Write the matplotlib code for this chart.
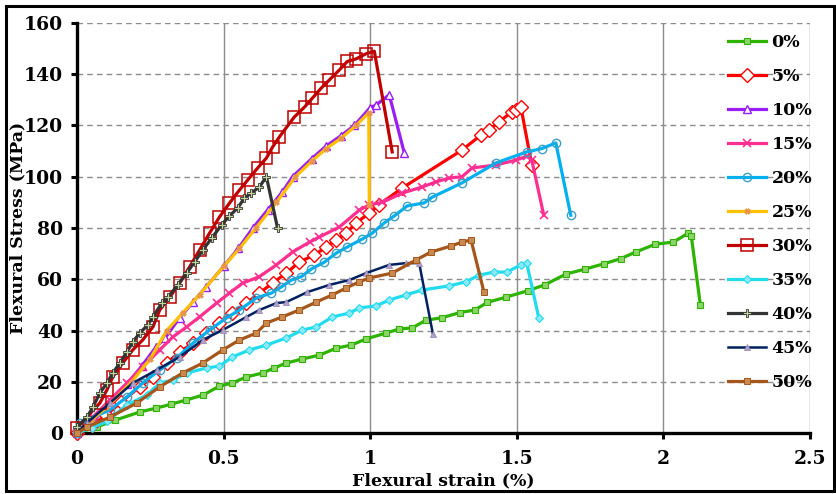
import matplotlib
matplotlib.use('Agg')
import matplotlib.pyplot as plt
from matplotlib.patches import Rectangle

# ---- data (strain %, stress MPa) ----
strain_0 = [0, 0.068, 0.13, 0.214, 0.27, 0.32, 0.373, 0.43, 0.486, 0.53, 0.578, 0.633, 0.673,
            0.714, 0.769, 0.827, 0.884, 0.935, 0.986, 1.054, 1.099, 1.143, 1.19, 1.245, 1.306,
            1.357, 1.40, 1.463, 1.537, 1.595, 1.667, 1.734, 1.796, 1.854, 1.905, 1.973, 2.034,
            2.085, 2.095, 2.126]
stress_0 = [0, 2.4, 5, 8.2, 9.7, 11.2, 12.9, 14.8, 18.3, 19.5, 21.9, 23.4, 25.4,
            27.3, 28.9, 30.4, 33.1, 34.3, 36.7, 39, 40.6, 41, 44, 45, 47,
            48, 51, 53, 55.5, 57.8, 62, 64, 66, 68, 70.6, 73.7, 74.5,
            78, 77, 50]

strain_5 = [0, 0.05, 0.1, 0.15, 0.214, 0.259, 0.306, 0.35, 0.395, 0.44, 0.486, 0.53, 0.578,
            0.622, 0.667, 0.714, 0.758, 0.81, 0.85, 0.884, 0.918, 0.952, 0.997, 1.03, 1.109,
            1.313, 1.378, 1.405, 1.439, 1.483, 1.497, 1.514, 1.551]
stress_5 = [0, 3, 7, 12, 18, 22, 27.3, 31.6, 35, 39, 43, 46.8, 50.7,
            54.6, 58.5, 62.4, 66.7, 69.5, 72.6, 75.3, 78, 82, 85.8, 89, 95.6,
            110.4, 116.3, 118.2, 121.4, 125.3, 126, 127.2, 104.6]

strain_10 = [0, 0.05, 0.1, 0.17, 0.22, 0.27, 0.3, 0.35, 0.395, 0.44, 0.5, 0.55, 0.6, 0.65,
             0.7, 0.735, 0.8, 0.85, 0.9, 0.946, 1.0, 1.02, 1.065, 1.116]
stress_10 = [0, 4, 10, 19, 26, 33.6, 37, 45, 51, 57, 65, 72, 80, 87,
             94, 100, 107, 112, 116, 120, 127, 128, 132, 109.4]

strain_15 = [0, 0.054, 0.112, 0.17, 0.224, 0.282, 0.327, 0.374, 0.418, 0.476, 0.52, 0.565,
             0.622, 0.68, 0.735, 0.793, 0.827, 0.895, 0.963, 0.997, 1.041, 1.109, 1.177,
             1.224, 1.269, 1.313, 1.347, 1.429, 1.497, 1.534, 1.551, 1.592]
stress_15 = [0, 6.2, 12.9, 19.5, 25.8, 32.4, 37.5, 41.4, 45.3, 50.7, 54.6, 58.5,
             61, 65.6, 70.6, 74.5, 76.5, 80.4, 87, 89, 90, 93.6, 96,
             98, 99.5, 100, 103.4, 104.6, 106.5, 108, 106.5, 85]

strain_20 = [0, 0.01, 0.112, 0.17, 0.224, 0.282, 0.34, 0.395, 0.452, 0.51, 0.554, 0.612,
             0.663, 0.697, 0.731, 0.765, 0.799, 0.844, 0.884, 0.922, 0.973, 1.007, 1.048,
             1.082, 1.126, 1.184, 1.211, 1.313, 1.429, 1.534, 1.585, 1.633, 1.684]
stress_20 = [0, 3.9, 9, 14, 19.5, 24.6, 29.3, 35, 40.2, 44.9, 48, 52.7,
             54.6, 57, 59.7, 61, 64, 66.7, 70.2, 72.6, 75.7, 78, 82,
             84.7, 88.6, 89.8, 92, 97.6, 105.4, 109.7, 111, 113.2, 85]

strain_25 = [0, 0.05, 0.1, 0.187, 0.25, 0.306, 0.36, 0.418, 0.5, 0.554, 0.61, 0.68, 0.745,
             0.8, 0.85, 0.9, 0.952, 0.995, 0.997]
stress_25 = [0, 5, 10, 20, 29, 40, 46.8, 54, 65, 72, 80, 90, 100,
             106, 111, 115, 120, 125, 89]

strain_30 = [0, 0.078, 0.102, 0.122, 0.156, 0.19, 0.224, 0.259, 0.282, 0.316, 0.35, 0.384,
             0.418, 0.452, 0.486, 0.52, 0.554, 0.582, 0.616, 0.646, 0.667, 0.69, 0.741,
             0.776, 0.803, 0.833, 0.861, 0.895, 0.922, 0.952, 0.986, 1.014, 1.075]
stress_30 = [2, 11.7, 16.8, 21.9, 27.3, 32.4, 36.3, 41.4, 48, 53, 58.5, 64.8,
             71.4, 78, 84.3, 89.7, 94.8, 98.7, 103.4, 107.3, 111.6, 115.5, 123.3,
             127.2, 130.7, 134.6, 137.8, 141.7, 145, 146, 148, 149, 109.7]

strain_35 = [0, 0.05, 0.102, 0.17, 0.238, 0.282, 0.327, 0.374, 0.442, 0.486, 0.53, 0.588,
             0.646, 0.714, 0.769, 0.816, 0.871, 0.929, 0.963, 1.02, 1.065, 1.122, 1.177,
             1.269, 1.327, 1.371, 1.422, 1.466, 1.514, 1.534, 1.575]
stress_35 = [0, 2, 4.5, 10.9, 14.8, 19.5, 20.7, 23.4, 25.4, 26.1, 29.7, 32.4,
             34.3, 37.1, 40.2, 41.4, 45.3, 46.8, 48.8, 49.6, 51.9, 53.9, 55.8,
             57.4, 59, 61.6, 62.8, 62.8, 65.6, 66.3, 44.9]

strain_40 = [0, 0.034, 0.054, 0.078, 0.102, 0.122, 0.146, 0.17, 0.19, 0.214, 0.241, 0.259,
             0.289, 0.31, 0.344, 0.374, 0.401, 0.429, 0.459, 0.493, 0.52, 0.548, 0.571,
             0.595, 0.622, 0.646, 0.684]
stress_40 = [2.3, 6.2, 10, 15.6, 19.5, 23.4, 27.3, 31.6, 35.5, 39, 42.1, 45.3,
             50.7, 53, 57.8, 62.4, 66.7, 71.4, 76, 81.2, 84.7, 87.8, 91.7,
             93.7, 96, 100, 80]

strain_45 = [0, 0.034, 0.112, 0.19, 0.272, 0.35, 0.429, 0.497, 0.578, 0.622, 0.68, 0.714,
             0.786, 0.861, 0.929, 0.986, 1.065, 1.122, 1.167, 1.214]
stress_45 = [0, 3.9, 11.7, 19.5, 24.6, 29.7, 36.3, 40.2, 45.3, 48, 50.7, 51.1,
             55, 57.8, 59.7, 62.4, 65.6, 66.3, 66.3, 38.6]

strain_50 = [0, 0.034, 0.112, 0.204, 0.282, 0.36, 0.429, 0.497, 0.554, 0.612, 0.646, 0.70,
             0.758, 0.816, 0.871, 0.918, 0.963, 0.997, 1.075, 1.156, 1.207, 1.276, 1.313,
             1.344, 1.388]
stress_50 = [0, 2.3, 6.2, 11.7, 18, 23.4, 27.3, 32.4, 36.3, 39, 42.9, 45.3,
             48, 51.1, 53.9, 56.6, 59, 60.5, 62.4, 67.5, 70.6, 73, 74.5,
             75.3, 55]

series = [
    ('0%', strain_0, stress_0, dict(color='#2db300', lw=2.3, marker='s', ms=4,
                                   mfc='#8fd46a', mec='#2db300', mew=0.8)),
    ('5%', strain_5, stress_5, dict(color='#ff0000', lw=2.3, marker='D', ms=7,
                                   mfc='white', mec='#ff0000', mew=1.0)),
    ('10%', strain_10, stress_10, dict(color='#9a1df5', lw=2.3, marker='^', ms=6,
                                      mfc='white', mec='#9a1df5', mew=1.0)),
    ('15%', strain_15, stress_15, dict(color='#ff2f92', lw=2.3, marker='x', ms=6,
                                      mec='#ff2f92', mew=1.2)),
    ('20%', strain_20, stress_20, dict(color='#00b0f0', lw=2.3, marker='o', ms=6,
                                      mfc='none', mec='#3e9fc4', mew=1.0)),
    ('25%', strain_25, stress_25, dict(color='#ffc000', lw=2.3, marker='X', ms=4,
                                      mfc='#e8954a', mec='#e8954a', mew=0.5)),
    ('30%', strain_30, stress_30, dict(color='#c00000', lw=2.3, marker='s', ms=9,
                                      mfc='none', mec='#c00000', mew=1.1)),
    ('35%', strain_35, stress_35, dict(color='#21dcef', lw=2.3, marker='D', ms=4,
                                      mfc='#8ee8f5', mec='#21dcef', mew=0.8)),
    ('40%', strain_40, stress_40, dict(color='#333333', lw=2.3, marker='P', ms=6,
                                      mfc='#c4d79b', mec='#333333', mew=0.6)),
    ('45%', strain_45, stress_45, dict(color='#002060', lw=1.8, marker='^', ms=4,
                                      mfc='#b3a2c7', mec='#9a89b8', mew=0.6)),
    ('50%', strain_50, stress_50, dict(color='#a5561b', lw=2.3, marker='s', ms=4,
                                      mfc='#c98a50', mec='#a5561b', mew=0.7)),
]

font = 'DejaVu Serif'

fig = plt.figure(figsize=(8.37, 4.94), dpi=100)
ax = fig.add_axes([77 / 837, 61 / 494, 733 / 837, 410 / 494])

for label, xs, ys, style in series:
    ax.plot(xs, ys, label=label, clip_on=False, zorder=3, **style)

ax.set_xlim(0, 2.5)
ax.set_ylim(0, 160)
ax.set_xticks([0, 0.5, 1, 1.5, 2, 2.5])
ax.set_xticklabels(['0', '0.5', '1', '1.5', '2', '2.5'])
ax.set_yticks(range(0, 161, 20))

# grid: dashed horizontal, solid vertical
ax.yaxis.grid(True, color='#8c8c8c', linestyle=(0, (4, 3)), lw=1.0)
ax.xaxis.grid(True, color='#8c8c8c', linestyle='-', lw=1.0)
ax.set_axisbelow(True)

for s in ['top', 'right']:
    ax.spines[s].set_visible(False)
for s in ['left', 'bottom']:
    ax.spines[s].set_linewidth(2.4)
    ax.spines[s].set_color('black')

ax.tick_params(axis='both', direction='out', length=4, width=2.2, color='black')
ax.tick_params(axis='y', pad=6)
ax.tick_params(axis='x', pad=8)
for t in ax.get_xticklabels() + ax.get_yticklabels():
    t.set_fontfamily(font)
    t.set_fontweight('bold')
    t.set_fontsize(13.5)

ax.set_xlabel('Flexural strain (%)', fontfamily=font, fontweight='bold', fontsize=12.5)
ax.set_ylabel('Flexural Stress (MPa)', fontfamily=font, fontweight='bold', fontsize=12.5)
ax.xaxis.set_label_coords(0.5, -0.096)
ax.yaxis.set_label_coords(-0.069, 0.5)

leg = ax.legend(loc='upper left', bbox_to_anchor=(728 / 837, 1 - 34 / 494),
                bbox_transform=fig.transFigure, frameon=False, borderpad=0,
                borderaxespad=0, handlelength=2.2, handletextpad=0.3,
                labelspacing=0.98, prop=dict(family=font, weight='bold', size=12.5))

# outer figure border
fig.patches.append(Rectangle((6 / 837, 3 / 494), 828 / 837, 485 / 494, transform=fig.transFigure,
                             fill=False, edgecolor='black', lw=2.2))

fig.savefig('out.png', dpi=100)
